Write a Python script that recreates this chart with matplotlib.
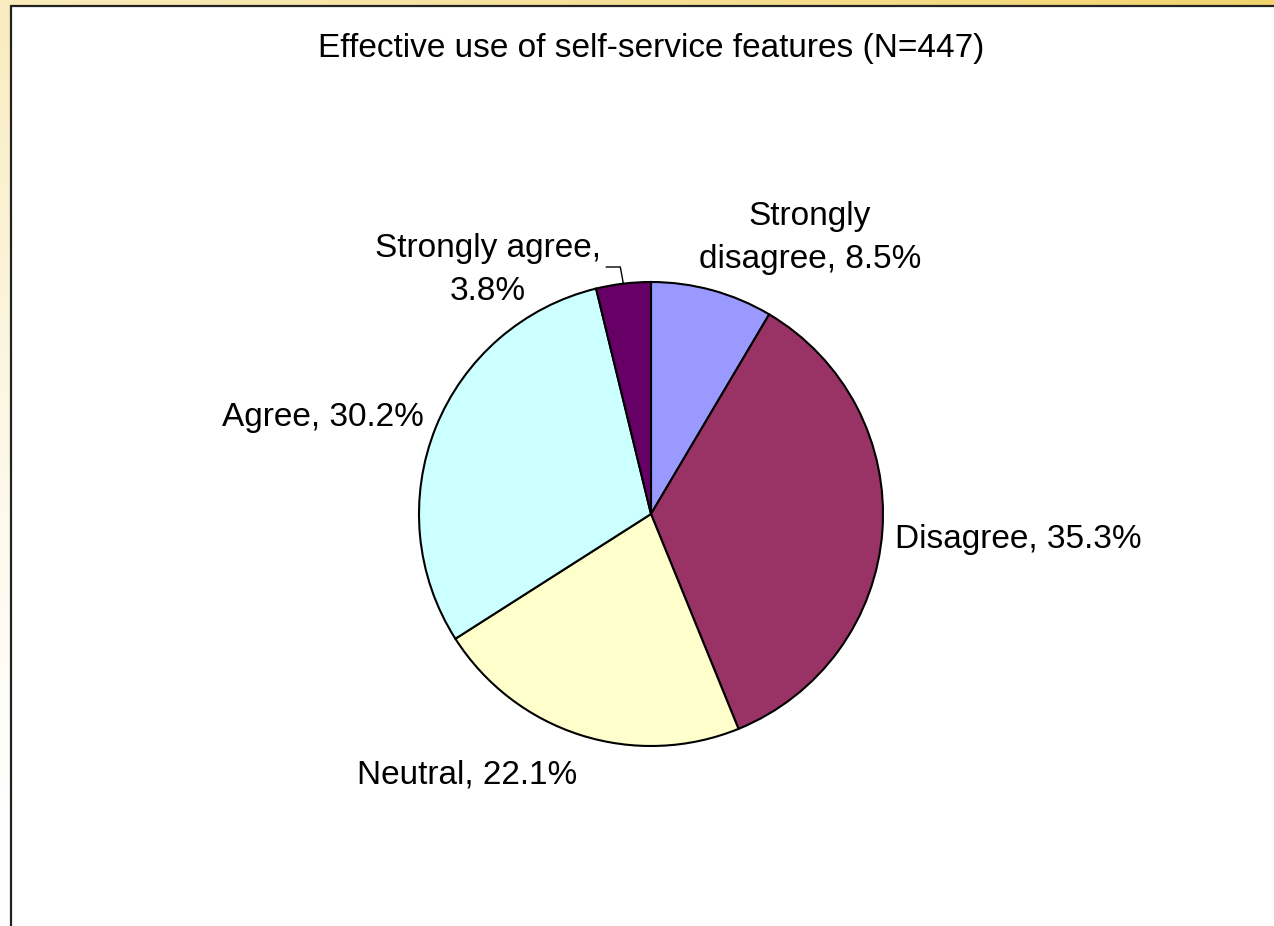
import numpy as np
import matplotlib
matplotlib.use("Agg")
import matplotlib.pyplot as plt
from matplotlib.patches import Rectangle

categories = ["Strongly disagree", "Disagree", "Neutral", "Agree", "Strongly agree"]
values = [8.5, 35.3, 22.1, 30.2, 3.8]
label_texts = ["Strongly\ndisagree, 8.5%", "Disagree, 35.3%", "Neutral, 22.1%",
               "Agree, 30.2%", "Strongly agree,\n3.8%"]
colors = ["#9999FF", "#993366", "#FFFFCC", "#CCFFFF", "#660066"]
title = "Effective use of self-service features (N=447)"

W, H = 1274, 926
plt.rcParams['font.family'] = ['Liberation Sans', 'DejaVu Sans']

fig = plt.figure(figsize=(W / 100, H / 100), dpi=100)
ax = fig.add_axes([0, 0, 1, 1])

# background gradient
xs = np.linspace(0, 1, 200)
ys = np.linspace(0, 1, 150)
X, Y = np.meshgrid(xs, ys)
t = (1 - Y) ** 1.5 * (0.45 + 0.55 * X)
gold = np.array([242, 212, 110]) / 255.0
img = 1 - t[..., None] * (1 - gold)
ax.imshow(img, extent=[0, W, 0, H], origin='upper', aspect='auto', zorder=0)

# white chart area
ax.add_patch(Rectangle((11, -20), W + 50, H - 6 + 20, facecolor='white',
                       edgecolor='#222222', lw=1.6, zorder=1))

cx, cy, r = 651, H - 514, 232
wedges, _ = ax.pie(values, colors=colors, startangle=90, counterclock=False,
                   center=(cx, cy), radius=r, frame=True,
                   wedgeprops=dict(edgecolor='black', linewidth=1.5, zorder=2))
ax.set_xlim(0, W)
ax.set_ylim(0, H)
ax.set_aspect('equal')
ax.set_axis_off()

# (x centre, baseline of last line) in pixels from top
label_pos = [(810, 268), (1018, 548), (467, 783), (323, 426), (488, 300)]
for txt, (lx, ly) in zip(label_texts, label_pos):
    ax.text(lx, H - ly, txt, ha='center', va='baseline', fontsize=24,
            linespacing=1.5, zorder=3)

# leader line for the small slice
w = wedges[4]
mid = np.deg2rad((w.theta1 + w.theta2) / 2)
ex, ey = cx + r * np.cos(mid), cy + r * np.sin(mid)
ax.plot([ex, ex - 3, ex - 17], [ey, H - 267, H - 267], color='black', lw=1, zorder=3)

ax.text(651, H - 48, title, ha='center', va='center', fontsize=24, zorder=3)

fig.savefig("out.png", dpi=100)
